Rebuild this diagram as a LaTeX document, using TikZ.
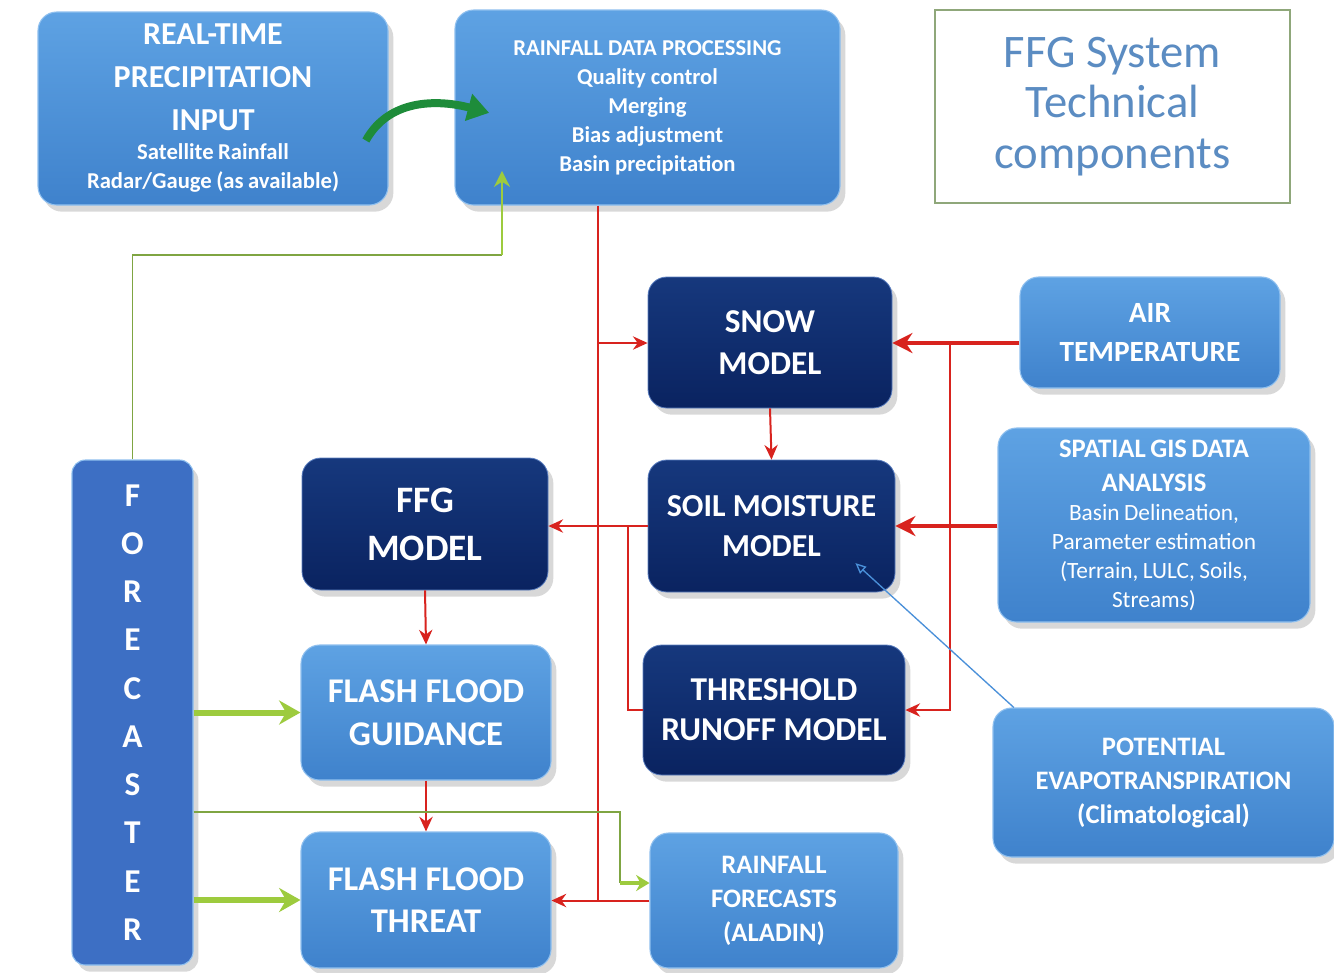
\documentclass[tikz,border=0pt]{standalone}
\usepackage{fontspec}
\setmainfont{Carlito}
\usetikzlibrary{shadows,arrows.meta,calc}
\definecolor{lbtop}{HTML}{5EA2E3}
\definecolor{lbbot}{HTML}{3F82CC}
\definecolor{lbedge}{HTML}{8FC0EF}
\definecolor{nvtop}{HTML}{16387D}
\definecolor{nvbot}{HTML}{0A2360}
\definecolor{nvedge}{HTML}{5C7FC0}
\definecolor{fcol}{HTML}{3D6FC4}
\definecolor{rcol}{HTML}{D8231E}
\definecolor{gcol}{HTML}{7FA542}
\definecolor{lgcol}{HTML}{9DCB3E}
\definecolor{dgcol}{HTML}{1E8C3A}
\definecolor{ttl}{HTML}{5B8CC2}
\definecolor{ttlborder}{HTML}{8FA77A}
\definecolor{pline}{HTML}{4A90D9}
\tikzset{
 base/.style={rectangle, rounded corners=14pt, inner sep=2pt, align=center, text=white, font=\bfseries,
   drop shadow={opacity=0.3, shadow xshift=4pt, shadow yshift=-5pt}},
 lbox/.style={base, top color=lbtop, bottom color=lbbot, draw=lbedge, line width=0.8pt},
 nbox/.style={base, top color=nvtop, bottom color=nvbot, draw=nvedge, line width=0.6pt},
 fbox/.style={base, fill=fcol, draw=lbedge, line width=0.8pt, rounded corners=10pt},
 rline/.style={draw=rcol, line width=1.5pt},
 rarr/.style={rline, -{Stealth[length=11pt,width=10pt]}},
 rbig/.style={draw=rcol, line width=3pt, -{Stealth[length=15pt,width=15pt]}},
 gline/.style={draw=gcol, line width=1.2pt},
 garr/.style={draw=lgcol, line width=4.5pt, -{Stealth[length=16pt,width=18pt]}},
 parr/.style={draw=pline, line width=1pt, -{Triangle[open,length=8pt,width=7pt]}},
}
\begin{document}
\begin{tikzpicture}[x=0.75pt,y=-0.75pt]
\useasboundingbox[fill=white] (0,0) rectangle (1334,972);

% boxes
\node[lbox, minimum width=262.5pt, minimum height=144.75pt, text width=255pt] (rtp) at (213,108.5)
 {\fontsize{24}{32}\selectfont REAL-TIME\\PRECIPITATION\\INPUT\par
  \fontsize{17}{22}\selectfont Satellite Rainfall\\Radar/Gauge (as available)\par};
\node[lbox, minimum width=288.75pt, minimum height=146.25pt, font=\bfseries\fontsize{17}{21.75}\selectfont] (rdp) at (647.5,107.5)
 {RAINFALL DATA PROCESSING\\Quality control\\Merging\\Bias adjustment\\Basin precipitation};
\node[draw=ttlborder, line width=1.2pt, fill=white, minimum width=266.25pt, minimum height=144.75pt,
  align=center, text=ttl, font=\fontsize{35}{38}\selectfont] (ttlbox) at (1112.5,106.5)
 {FFG System\\Technical\\components};

\node[nbox, minimum width=183pt, minimum height=98.25pt, font=\bfseries\fontsize{25}{31.5}\selectfont] (snow) at (770,342.5) {SNOW\\MODEL};
\node[nbox, minimum width=185.25pt, minimum height=99pt, font=\bfseries\fontsize{24}{30}\selectfont] (soil) at (771.5,526) {SOIL MOISTURE\\MODEL};
\node[nbox, minimum width=196.5pt, minimum height=97.5pt, font=\bfseries\fontsize{25}{30}\selectfont] (thr) at (774,710) {THRESHOLD\\RUNOFF MODEL};
\node[nbox, minimum width=184.5pt, minimum height=99pt, font=\bfseries\fontsize{28}{36}\selectfont] (ffg) at (425,524) {FFG\\MODEL};

\node[lbox, minimum width=187.5pt, minimum height=101.25pt, font=\bfseries\fontsize{26}{32}\selectfont] (ffgd) at (426,712.5) {FLASH FLOOD\\GUIDANCE};
\node[lbox, minimum width=187.5pt, minimum height=102pt, font=\bfseries\fontsize{26}{32}\selectfont] (fft) at (426,900) {FLASH FLOOD\\THREAT};
\node[lbox, minimum width=186pt, minimum height=101.25pt, font=\bfseries\fontsize{20}{25.5}\selectfont] (rf) at (774,900.5) {RAINFALL\\FORECASTS\\(ALADIN)};

\node[lbox, minimum width=195pt, minimum height=83.25pt, font=\bfseries\fontsize{22}{29}\selectfont] (air) at (1150,332.5) {AIR\\TEMPERATURE};
\node[lbox, minimum width=234pt, minimum height=145.5pt, text width=228pt] (gis) at (1154,525)
 {\fontsize{20}{25.5}\selectfont SPATIAL GIS DATA\\ANALYSIS\par
  \fontsize{17.5}{21.75}\selectfont\mdseries Basin Delineation,\\Parameter estimation\\(Terrain, LULC, Soils,\\Streams)\par};
\node[lbox, minimum width=255.75pt, minimum height=111.75pt, font=\bfseries\fontsize{20}{25.5}\selectfont] (pet) at (1163.5,782.5) {POTENTIAL\\EVAPOTRANSPIRATION\\(Climatological)};

\node[fbox, minimum width=90.75pt, minimum height=378.75pt, font=\bfseries\fontsize{25}{36.2}\selectfont] (fcr) at (132.5,712.5) {F\\O\\R\\E\\C\\A\\S\\T\\E\\R};

% coordinates
\coordinate (jA) at (598,343);
\coordinate (jB) at (628,526);
\coordinate (jC) at (950,343);
\coordinate (jD) at (620,812);
\coordinate (jE) at (620,883);
\coordinate (jF) at (502,255);

% red connectors
\draw[rline] (rdp.south -| jA) -- (jA |- rf.west);
\draw[rarr] (jA) -- (jA -| snow.west);
\draw[rarr] (rf.west) -- (rf.west -| fft.east);
\draw[rarr] (snow.south) -- (soil.north);
\draw[rarr] (soil.west) -- (soil.west -| ffg.east);
\draw[rline] (jB) |- (thr.west);
\draw[rbig] (air.west |- jC) -- (jC -| snow.east);
\draw[rarr] (jC) |- (thr.east);
\draw[rbig] (gis.west |- soil.east) -- (soil.east);
\draw[rarr] (ffg.south) -- (ffgd.north);
\draw[rarr] (ffgd.south) -- (fft.north);

% blue PET line
\draw[parr] ([xshift=16pt]pet.north west) -- ([xshift=-30pt,yshift=22pt]soil.south east);

% green connectors
\draw[gline] (fcr.north) |- (jF);
\draw[draw=lgcol, line width=2pt, -{Stealth[length=12pt,width=12pt]}] (jF) -- ([yshift=26pt]jF |- rdp.south);
\draw[gline] (jD -| fcr.east) -- (jD) -- (jE);
\draw[draw=lgcol, line width=3pt, -{Stealth[length=10pt,width=12pt]}] (jE) -- (jE -| rf.west);
\draw[garr] (fcr.east |- ffgd.west) -- (ffgd.west);
\draw[garr] (fcr.east |- fft.west) -- (fft.west);

% curved dark green arrow
\draw[draw=dgcol, line width=6pt, -{Triangle[length=16pt,width=20pt]}]
  ([xshift=-17pt,yshift=-24pt]rtp.east) .. controls +(25,-45) and +(-45,-12) .. ([xshift=26pt,yshift=-4pt]rdp.west);
\end{tikzpicture}
\end{document}
